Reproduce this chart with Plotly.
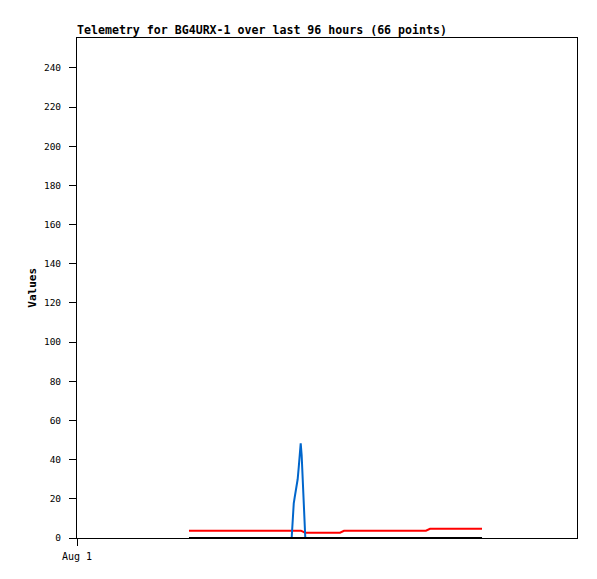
import plotly.graph_objects as go

# x axis window (96 hours)
x_start = "2024-08-01 00:00"
x_end = "2024-08-05 00:00"

# Red series (stepped values)
red_t = ["2024-08-01 21:30", "2024-08-02 19:00", "2024-08-02 19:23", "2024-08-02 19:47",
         "2024-08-03 02:30", "2024-08-03 02:53", "2024-08-03 03:16",
         "2024-08-03 19:00", "2024-08-03 19:23", "2024-08-03 19:47", "2024-08-04 05:46"]
red_v = [3.7, 3.7, 3.3, 2.7, 2.7, 3.2, 3.7, 3.7, 4.2, 4.7, 4.7]

# Blue series (spike)
blue_t = ["2024-08-02 17:13", "2024-08-02 17:25", "2024-08-02 17:37", "2024-08-02 17:48",
          "2024-08-02 17:59", "2024-08-02 18:11", "2024-08-02 18:22", "2024-08-02 18:34",
          "2024-08-02 18:46", "2024-08-02 18:57", "2024-08-02 19:08", "2024-08-02 19:20",
          "2024-08-02 19:32", "2024-08-02 19:43", "2024-08-02 19:50"]
blue_v = [0, 12, 17.7, 20.8, 23.8, 26.9, 30, 35.9, 44.1, 48.4, 42.4, 30, 18.2, 5.8, 0]

# Black series (zero)
black_t = ["2024-08-01 21:30", "2024-08-04 05:46"]
black_v = [0, 0]

y_ticks = list(range(0, 241, 20))
x_tick_vals = ["2024-08-01 00:00"]
x_tick_text = ["Aug 1"]

mono = "DejaVu Sans Mono"

fig = go.Figure()
fig.add_trace(go.Scatter(x=red_t, y=red_v, mode="lines",
                         line=dict(color="#ff0000", width=2), showlegend=False))
fig.add_trace(go.Scatter(x=blue_t, y=blue_v, mode="lines",
                         line=dict(color="#0066cc", width=2), showlegend=False))
fig.add_trace(go.Scatter(x=black_t, y=black_v, mode="lines",
                         line=dict(color="#000000", width=2), showlegend=False))

fig.update_layout(
    width=589, height=571,
    margin=dict(l=69, r=20, t=30, b=41),
    paper_bgcolor="white", plot_bgcolor="white",
    font=dict(family=mono, size=9, color="black"),
    showlegend=False,
)
fig.update_xaxes(
    type="date", range=[x_start, x_end],
    tickmode="array", tickvals=x_tick_vals, ticktext=x_tick_text,
    ticks="outside", ticklen=7, tickcolor="black", tickwidth=1,
    ticklabelstandoff=2,
    showgrid=False, zeroline=False,
    showline=True, linecolor="black", linewidth=1, mirror=True,
    tickfont=dict(family=mono, size=10),
)
fig.update_yaxes(
    range=[0, 255.3],
    tickmode="array", tickvals=y_ticks,
    ticks="outside", ticklen=7, tickcolor="black", tickwidth=1,
    ticklabelstandoff=6,
    showgrid=False, zeroline=False,
    showline=True, linecolor="black", linewidth=1, mirror=True,
    tickfont=dict(family=mono, size=9.5),
)
fig.add_annotation(text="<b>Telemetry for BG4URX-1 over last 96 hours (66 points)</b>",
                   xref="paper", yref="paper", x=0, y=1, xanchor="left", yanchor="bottom",
                   xshift=-2, yshift=-1, showarrow=False,
                   font=dict(family=mono, size=11.6, color="black"))
fig.add_annotation(text="<b>Values</b>", textangle=-90,
                   xref="paper", yref="paper", x=-0.0906, y=0.5, xanchor="center", yanchor="middle",
                   showarrow=False, font=dict(family=mono, size=11, color="black"))

fig.write_html("out.html")
